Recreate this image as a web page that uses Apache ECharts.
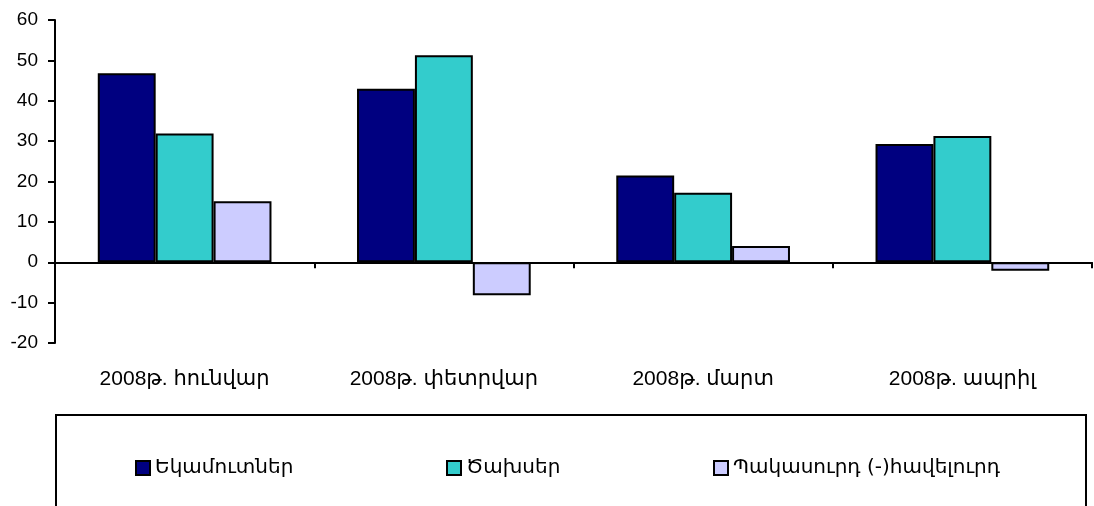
<!DOCTYPE html>
<html>
<head>
<meta charset="utf-8">
<script src="https://cdn.jsdelivr.net/npm/echarts@6/dist/echarts.min.js"></script>
<style>
	html, body { margin: 0; padding: 0; background: #fff; }
	#chart { width: 1094px; height: 506px; }
</style>
</head>
<body>
<div id="chart"></div>
<script>
const categories = ['2008թ. հունվար', '2008թ. փետրվար', '2008թ. մարտ', '2008թ. ապրիլ'];
const seriesNames = ['Եկամուտներ', 'Ծախսեր', 'Պակասուրդ (-)հավելուրդ'];
const incomeValues = [46.8, 43.0, 21.5, 29.3];
const expenseValues = [31.9, 51.3, 17.2, 31.3];
const balanceValues = [15.1, -8.2, 4.0, -2.1];
const colors = ['#000080', '#33CCCC', '#CCCCFF'];

const font = '"Liberation Sans", "DejaVu Sans", Arial, sans-serif';
const chart = echarts.init(document.getElementById('chart'));

const makeSeries = (name, data, color) => ({
	name,
	type: 'bar',
	data,
	barGap: '0%',
	barCategoryGap: '33%',
	itemStyle: {
		color,
		borderColor: '#000',
		borderWidth: 2
	}
});

chart.setOption({
	animation: false,
	textStyle: { fontFamily: font },
	grid: { left: 55, right: 2, top: 20, bottom: 163 },
	graphic: [{
		type: 'rect',
		shape: { x: 56, y: 415, width: 1030, height: 120 },
		style: { fill: 'none', stroke: '#000', lineWidth: 2 },
		silent: true
	}],
	legend: seriesNames.map((name, i) => ({
		data: [name],
		icon: 'rect',
		left: [130, 441, 708][i],
		top: 453,
		itemWidth: 14,
		itemHeight: 14,
		itemGap: 6,
		textStyle: { fontSize: 20, color: '#000', fontFamily: '"DejaVu Sans", sans-serif' }
	})),
	xAxis: [{
		type: 'category',
		data: categories,
		axisLine: { onZero: true, lineStyle: { color: '#000', width: 2 } },
		axisTick: { show: true, length: 6, interval: 0, lineStyle: { color: '#000', width: 2 } },
		axisLabel: { show: false },
		splitLine: { show: false }
	}, {
		type: 'category',
		data: categories,
		position: 'bottom',
		axisLine: { show: false, onZero: false },
		axisTick: { show: false },
		axisLabel: { margin: 26, fontSize: 21, color: '#000' },
		splitLine: { show: false }
	}],
	yAxis: {
		type: 'value',
		min: -20,
		max: 60,
		interval: 10,
		axisLine: { show: true, lineStyle: { color: '#000', width: 2 } },
		axisTick: { show: true, length: 7, lineStyle: { color: '#000', width: 2 } },
		axisLabel: { fontSize: 19, color: '#000', margin: 17 },
		splitLine: { show: false }
	},
	series: [
		makeSeries(seriesNames[0], incomeValues, colors[0]),
		makeSeries(seriesNames[1], expenseValues, colors[1]),
		makeSeries(seriesNames[2], balanceValues, colors[2])
	]
});
</script>
</body>
</html>
